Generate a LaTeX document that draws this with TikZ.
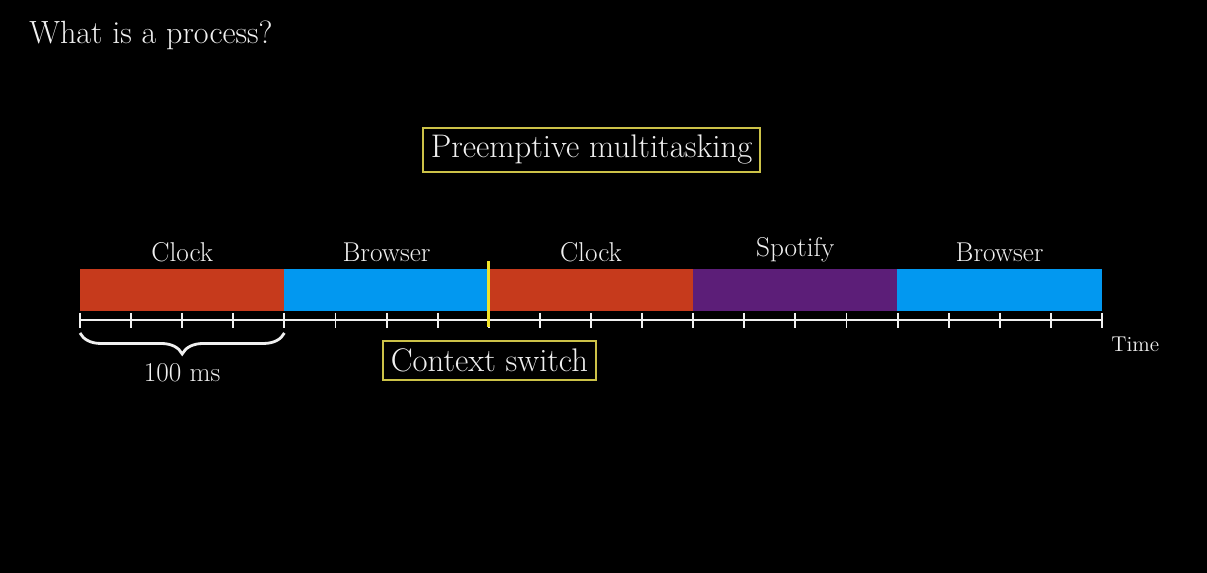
\documentclass[tikz,border=0pt]{standalone}
\usepackage{tikz}
\usetikzlibrary{positioning,decorations.pathreplacing}
\definecolor{clockred}{RGB}{198,58,28}
\definecolor{browserblue}{RGB}{2,152,240}
\definecolor{spotifypurple}{RGB}{92,30,120}
\definecolor{switchyellow}{RGB}{240,226,40}
\definecolor{boxyellow}{RGB}{204,194,72}
\definecolor{textwhite}{RGB}{240,240,240}
\newcommand{\fsz}[1]{\fontsize{#1}{1.2\dimexpr#1pt\relax}\selectfont}

\begin{document}
\begin{tikzpicture}[
  x=0.02cm, y=-0.02cm,
  seg/.style={minimum width=4.088cm, minimum height=0.84cm, inner sep=0pt, outer sep=0pt},
  lbl/.style={inner sep=0pt, text=textwhite, font=\fsz{15.5}},
  seglbl/.style={lbl, yshift=0.14cm},
  titlebox/.style={draw=boxyellow, line width=1.1pt, text=textwhite, font=\fsz{18.6}, inner sep=0pt},
  axis/.style={draw=textwhite, line width=1.1pt},
  switchline/.style={draw=switchyellow, line width=1.7pt},
  brace/.style={draw=textwhite, line width=1.6pt, decorate, decoration={brace, mirror, amplitude=0.42cm}}
]

% Background
\fill[black] (0,0) rectangle (1207,573);
\useasboundingbox (0,0) rectangle (1207,573);

% Title
\node[anchor=base west, inner sep=0pt, text=textwhite, font=\fsz{18.3}] (title) at (29,44) {What is a process?};

\node[titlebox, minimum width=6.74cm, minimum height=0.88cm] (preempt) at (591.5,150) {Preemptive multitasking};

% Time slices
\node[seg, fill=clockred, label={[seglbl]above:Clock}] (s1) at (182.2,290) {};
\node[seg, fill=browserblue, label={[seglbl]above:Browser}, right=0pt of s1] (s2) {};
\node[seg, fill=clockred, label={[seglbl]above:Clock}, right=0pt of s2] (s3) {};
\node[seg, fill=spotifypurple, label={[seglbl]above:Spotify}, right=0pt of s3] (s4) {};
\node[seg, fill=browserblue, label={[seglbl]above:Browser}, right=0pt of s4] (s5) {};

% Axis
\coordinate (axl) at (80,320);
\coordinate (axr) at (1102,320);
\draw[axis] (axl) -- (axr);
\foreach \i in {0,...,20}
  \draw[axis] ({80+51.1*\i},313) -- ({80+51.1*\i},328);
\node[anchor=base west, inner sep=0pt, text=textwhite, font=\fsz{12.2}] (time) at (1111,352) {Time};

% Context switch
\draw[switchline] ([yshift=0.16cm]s2.north east) -- ([yshift=-0.32cm]s2.south east);
\node[titlebox, minimum width=4.26cm, minimum height=0.78cm] (ctx) at (489.5,360.5) {Context switch};

% Brace
\draw[brace] ([yshift=-0.44cm]s1.south west) -- ([yshift=-0.44cm]s1.south east);
\node[lbl, anchor=base] (quantum) at (182.2,382) {100 ms};

\end{tikzpicture}
\end{document}
